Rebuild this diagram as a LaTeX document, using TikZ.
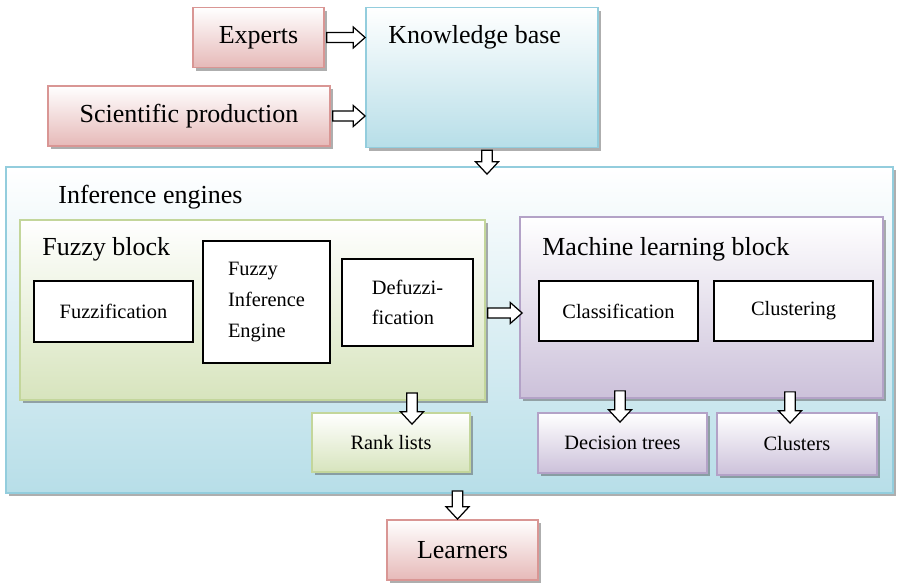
\documentclass[tikz,border=0pt]{standalone}
\usepackage{fontspec}
\setmainfont{Liberation Serif}
\usepackage{tikz}
\usetikzlibrary{calc,shapes,shadows,positioning}

\definecolor{redline}{HTML}{D99694}
\definecolor{redfill}{HTML}{E6B9B8}
\definecolor{blueline}{HTML}{93CDDD}
\definecolor{bluefill}{HTML}{B7DEE8}
\definecolor{greenline}{HTML}{C3D69B}
\definecolor{greenfill}{HTML}{D7E4BD}
\definecolor{purpleline}{HTML}{B3A2C7}
\definecolor{purplefill}{HTML}{CCC1DA}

\newcommand{\titlefont}{\fontsize{14.8}{17}\selectfont}
\newcommand{\boxfont}{\fontsize{11.6}{17.5}\selectfont}

\tikzstyle{block}=[rectangle,inner sep=0pt,line width=1pt,
  drop shadow={shadow xshift=0.06cm,shadow yshift=-0.06cm,fill=black!70,opacity=0.45}]
\tikzstyle{redblock}=[block,draw=redline,top color=white,bottom color=redfill,font=\titlefont]
\tikzstyle{blueblock}=[block,draw=blueline,top color=white,bottom color=bluefill]
\tikzstyle{greenblock}=[block,draw=greenline,top color=white,bottom color=greenfill,font=\boxfont]
\tikzstyle{purpleblock}=[block,draw=purpleline,top color=white,bottom color=purplefill,font=\boxfont]
\tikzstyle{whitebox}=[rectangle,draw=black,fill=white,line width=0.75pt,inner sep=0pt,
  font=\boxfont,align=left]
\tikzstyle{blocktitle}=[anchor=base west,inner sep=0pt,font=\titlefont]
% hollow block arrows, pointing right and down
\tikzstyle{rarrow}=[draw=black,fill=white,line width=0.7pt,
  to path={let \p1=(\tikztostart), \p2=(\tikztotarget) in
    (\x1,\y1+2.8pt) -- (\x2-6.8pt,\y1+2.8pt) -- (\x2-6.8pt,\y1+6pt) -- (\x2,\y1)
    -- (\x2-6.8pt,\y1-6pt) -- (\x2-6.8pt,\y1-2.8pt) -- (\x1,\y1-2.8pt) -- cycle}]
\tikzstyle{darrow}=[draw=black,fill=white,line width=0.7pt,
  to path={let \p1=(\tikztostart), \p2=(\tikztotarget) in
    (\x1-3pt,\y1) -- (\x1-3pt,\y2+7pt) -- (\x1-6.5pt,\y2+7pt) -- (\x1,\y2)
    -- (\x1+6.5pt,\y2+7pt) -- (\x1+3pt,\y2+7pt) -- (\x1+3pt,\y1) -- cycle}]

\begin{document}
\begin{tikzpicture}
        \useasboundingbox (0,0) rectangle (17.96,-11.66);

        % Sources and knowledge base:
        \node (kb) [blueblock,minimum width=4.64cm,minimum height=2.8cm] at (9.64,-1.55) {};
        \node (kbtitle) [blocktitle] at (7.76,-0.86) {Knowledge base};
        \node (experts) [redblock,minimum width=2.62cm,minimum height=1.2cm] at (5.17,-0.75) {Experts};
        \node (sci) [redblock,minimum width=5.64cm,minimum height=1.2cm] at (3.78,-2.32) {Scientific production};

        % Inference engines:
        \node (inf) [blueblock,minimum width=17.74cm,minimum height=6.52cm] at (8.99,-6.6) {};
        \node (inftitle) [blocktitle] at (1.16,-4.06) {Inference engines};

        % Fuzzy block:
        \node (fuzzy) [greenblock,minimum width=9.3cm,minimum height=3.6cm] at (5.05,-6.2) {};
        \node (fuzzytitle) [blocktitle] at (0.84,-5.1) {Fuzzy block};
        \node (fuzzif) [whitebox,minimum width=3.18cm,minimum height=1.22cm] at (2.27,-6.23) {Fuzzification};
        \node (fie) [whitebox,minimum width=2.54cm,minimum height=2.44cm] at (5.33,-6.04) {Fuzzy\\Inference\\Engine};
        \node (defuzz) [whitebox,minimum width=2.62cm,minimum height=1.74cm] at (8.15,-6.05) {Defuzzi-\\fication};

        % Machine learning block:
        \node (ml) [purpleblock,minimum width=7.26cm,minimum height=3.62cm] at (14.03,-6.15) {};
        \node (mltitle) [blocktitle] at (10.84,-5.1) {Machine learning block};
        \node (classif) [whitebox,minimum width=3.18cm,minimum height=1.2cm] at (12.37,-6.22) {Classification};
        \node (clustering) [whitebox,minimum width=3.18cm,minimum height=1.2cm] at (15.87,-6.22) {Clustering};

        % Outputs:
        \node (rank) [greenblock,minimum width=3.16cm,minimum height=1.18cm] at (7.82,-8.85) {Rank lists};
        \node (dtrees) [purpleblock,minimum width=3.38cm,minimum height=1.2cm] at (12.45,-8.86) {Decision trees};
        \node (clusters) [purpleblock,minimum width=3.2cm,minimum height=1.24cm] at (15.94,-8.88) {Clusters};
        \node (learners) [redblock,minimum width=3.02cm,minimum height=1.2cm] at (9.25,-11) {Learners};

        % Arrows:
        \draw[rarrow] ([xshift=1pt]experts.east) to (kb.west);
        \draw[rarrow] ([xshift=1pt]sci.east) to (kb.west);
        \draw[darrow] ([xshift=0.1cm,yshift=-1pt]kb.south) to ([yshift=-0.16cm]inf.north);
        \draw[rarrow] ([shift={(1pt,-0.06cm)}]fuzzy.east) to ([xshift=0.06cm]ml.west);
        \draw[darrow] ([xshift=0.42cm,yshift=0.16cm]fuzzy.south -| rank.north) to ([yshift=-0.24cm]rank.north);
        \draw[darrow] ([xshift=-0.05cm,yshift=0.16cm]ml.south -| dtrees.north) to ([yshift=-0.2cm]dtrees.north);
        \draw[darrow] ([xshift=-0.14cm,yshift=0.14cm]ml.south -| clusters.north) to ([yshift=-0.22cm]clusters.north);
        \draw[darrow] ([xshift=-0.1cm,yshift=0.06cm]inf.south -| learners.north) to (learners.north);
\end{tikzpicture}
\end{document}
